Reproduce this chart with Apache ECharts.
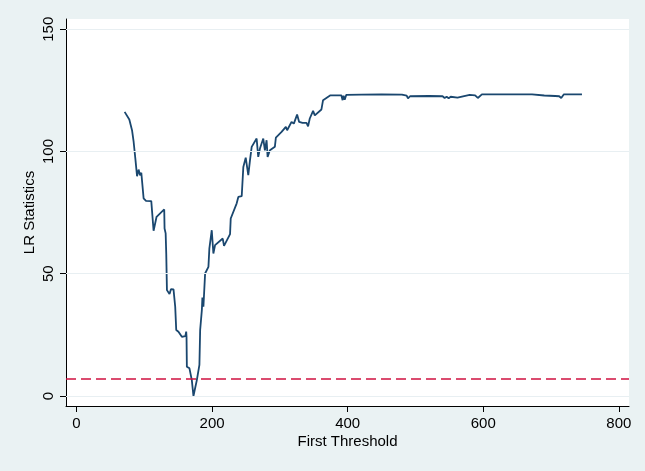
<!DOCTYPE html>
<html>
<head>
<meta charset="utf-8">
<script src="https://cdn.jsdelivr.net/npm/echarts@6/dist/echarts.min.js"></script>
<style>
html,body{margin:0;padding:0;background:#EAF2F3;}
#chart{width:645px;height:471px;}
</style>
</head>
<body>
<div id="chart"></div>
<script>
var thresholds = [71.0,77.9,81.9,84.3,86.8,89.3,91.6,93.7,95.6,99.0,102.5,110.3,113.7,118.1,129.4,129.9,131.5,132.4,133.4,137.2,139.3,143.1,145.6,147.1,150.4,155.4,157.8,160.5,161.8,162.3,162.8,166.6,170.1,172.5,177.5,181.3,182.4,184.9,185.7,187.2,189.7,194.6,196.0,199.5,201.9,204.4,215.7,217.6,226.5,227.5,236.3,238.7,243.7,246.1,249.6,253.4,255.9,258.4,265.7,268.1,270.6,275.5,277.9,280.4,281.9,285.3,287.8,292.6,294.1,302.5,304.9,308.8,310.7,317.2,320.6,325.4,328.4,333.4,339.3,341.6,344.1,349.0,351.5,361.3,363.7,366.2,374.6,390.7,392.5,394.0,395.6,398.0,420,450,480,487,489,492,520,540,543,546,549,552,562,580,588,592,598,640,672,690,706,712,715,719,745.6];
var lrStats = [116.2,113.1,108.7,103.9,97.1,89.9,92.6,90.3,91.3,80.8,79.8,79.7,67.6,73.3,76.3,68.5,66.5,58.0,43.3,41.7,43.7,43.6,36.5,27.0,26.3,24.2,24.0,24.5,26.3,24.2,12.0,11.3,6.5,0.0,6.5,12.7,27.0,35.1,40.3,36.5,50.1,52.8,60.4,67.8,58.3,61.7,64.4,61.4,66.2,72.6,78.8,81.4,81.7,93.7,97.5,90.3,96.4,101.9,105.3,97.8,101.2,105.3,100.5,104.6,97.8,100.5,99.8,101.9,105.7,108.0,107.3,110.1,108.7,112.1,111.4,115.1,112.1,111.7,111.7,110.3,113.5,116.6,114.8,117.2,121.0,121.7,123.0,123.0,121.0,122.8,121.2,123.2,123.3,123.4,123.3,122.9,121.7,122.6,122.7,122.6,121.9,122.4,121.8,122.4,122.0,123.2,123.0,121.9,123.4,123.4,123.4,122.9,122.7,122.6,121.9,123.4,123.4];
var criticalValue = 7.2;
var xTicks = [0,200,400,600,800];
var yTicks = [0,50,100,150];

var pts = thresholds.map(function(x,i){return [x, lrStats[i]];});
var chart = echarts.init(document.getElementById('chart'), null, {renderer:'canvas'});
var font = 'Liberation Sans, Arial, sans-serif';
chart.setOption({
  backgroundColor:'#EAF2F3',
  animation:false,
  grid:{left:66, top:19, width:563, height:387, show:true, backgroundColor:'#ffffff', borderWidth:0},
  xAxis:{
    type:'value', min:-15.5, max:815,
    name:'First Threshold', nameLocation:'middle', nameGap:28, nameMoveOverlap:false,
    nameTextStyle:{fontFamily:font, fontSize:15, color:'#000'},
    axisLine:{show:true, onZero:false, lineStyle:{color:'#000', width:1}},
    axisTick:{show:true, length:6, customValues:xTicks, lineStyle:{color:'#000'}},
    axisLabel:{customValues:xTicks, margin:10, fontFamily:font, fontSize:15, color:'#000'},
    splitLine:{show:false}
  },
  yAxis:{
    type:'value', min:-4.1, max:154.2,
    name:'LR Statistics', nameLocation:'middle', nameGap:29, nameMoveOverlap:false,
    nameTextStyle:{fontFamily:font, fontSize:15, color:'#000'},
    axisLine:{show:true, onZero:false, lineStyle:{color:'#000', width:1}},
    axisTick:{show:true, length:6, customValues:yTicks, lineStyle:{color:'#000'}},
    axisLabel:{customValues:yTicks, rotate:90, margin:10, fontFamily:font, fontSize:15, color:'#000'},
    splitLine:{show:false}
  },
  series:[{
    type:'line', data:pts, showSymbol:false, symbol:'none',
    lineStyle:{color:'#1a476f', width:1.8},
    markLine:{
      silent:true, symbol:'none', label:{show:false},
      data:[
        {yAxis:0, lineStyle:{color:'#e8eff2', width:1.2, type:'solid'}},
        {yAxis:50, lineStyle:{color:'#e8eff2', width:1.2, type:'solid'}},
        {yAxis:100, lineStyle:{color:'#e8eff2', width:1.2, type:'solid'}},
        {yAxis:150, lineStyle:{color:'#e8eff2', width:1.2, type:'solid'}}
      ]
    },
    z:3
  },{
    type:'line', data:[], 
    markLine:{
      silent:true, symbol:'none', label:{show:false},
      data:[{yAxis:criticalValue}],
      lineStyle:{color:'#d01040', width:1.5, type:[10,5]}
    },
    z:4
  }]
});
</script>
</body>
</html>
